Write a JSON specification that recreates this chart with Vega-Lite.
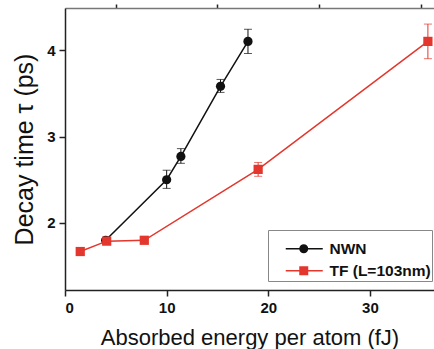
{
  "$schema": "https://vega.github.io/schema/vega-lite/v6.json",
  "autosize": "none",
  "width": 369,
  "height": 282,
  "padding": {"left": 65, "top": 8, "right": 0, "bottom": 59},
  "background": "white",
  "config": {
    "view": {"stroke": null},
    "font": "Liberation Sans",
    "axis": {
      "domainColor": "#222",
      "domainWidth": 1.5,
      "tickColor": "#222",
      "tickWidth": 1.5,
      "grid": false,
      "labelFont": "Liberation Sans",
      "labelFontWeight": "bold",
      "labelFontSize": 15,
      "labelColor": "#111",
      "titleFont": "Liberation Sans",
      "titleFontWeight": "normal",
      "titleColor": "#111"
    }
  },
  "data": {
    "values": [
      {"series": "NWN", "x": 4.0, "y": 1.80, "lo": null, "hi": null},
      {"series": "NWN", "x": 10.0, "y": 2.50, "lo": 2.40, "hi": 2.61},
      {"series": "NWN", "x": 11.4, "y": 2.77, "lo": 2.69, "hi": 2.86},
      {"series": "NWN", "x": 15.3, "y": 3.58, "lo": 3.51, "hi": 3.66},
      {"series": "NWN", "x": 18.0, "y": 4.10, "lo": 3.96, "hi": 4.24},
      {"series": "TF (L=103nm)", "x": 1.5, "y": 1.67, "lo": null, "hi": null},
      {"series": "TF (L=103nm)", "x": 4.1, "y": 1.79, "lo": null, "hi": null},
      {"series": "TF (L=103nm)", "x": 7.8, "y": 1.80, "lo": null, "hi": null},
      {"series": "TF (L=103nm)", "x": 19.0, "y": 2.62, "lo": 2.54, "hi": 2.70},
      {"series": "TF (L=103nm)", "x": 35.7, "y": 4.10, "lo": 3.90, "hi": 4.30}
    ]
  },
  "resolve": {"axis": {"x": "independent", "y": "independent"}},
  "layer": [
    {
      "mark": {"type": "line", "strokeWidth": 1.5},
      "encoding": {
        "x": {"field": "x", "type": "quantitative", "scale": {"domain": [0, 36.3], "nice": false, "zero": false},
              "axis": {"values": [0, 10, 20, 30], "tickSize": 6, "labelPadding": 4, "title": "Absorbed energy per atom (fJ)", "titleFontSize": 22, "titlePadding": 12}},
        "y": {"field": "y", "type": "quantitative", "scale": {"domain": [1.225, 4.486], "nice": false, "zero": false},
              "axis": {"values": [2, 3, 4], "tickSize": 6, "labelPadding": 4, "title": "Decay time τ (ps)", "titleFontSize": 25, "titlePadding": 9}},
        "color": {"field": "series", "type": "nominal", "scale": {"domain": ["NWN", "TF (L=103nm)"], "range": ["#111111", "#e3362c"]},
                  "legend": {
                    "orient": "none", "legendX": 203, "legendY": 222,
                    "title": " ", "titleFontSize": 8, "titlePadding": 2,
                    "strokeColor": "#888", "fillColor": "white",
                    "padding": 1, "rowPadding": 5,
                    "labelFont": "Liberation Sans", "labelFontWeight": "bold", "labelFontSize": 15.5, "labelColor": "#111",
                    "symbolSize": 100, "symbolStrokeWidth": 1.5, "labelOffset": 45, "symbolOpacity": 1,
                    "encode": {
                      "symbols": {
                        "update": {
                          "shape": {"signal": "datum.value === 'NWN' ? 'M1.8,0H9.2M6.15,0A0.75,0.75,0,1,1,4.65,0A0.75,0.75,0,1,1,6.15,0Z' : 'M1.8,0H9.2M4.65,-0.75H6.15V0.75H4.65Z'"},
                          "stroke": {"signal": "datum.value === 'NWN' ? '#111111' : '#e3362c'"},
                          "fill": {"signal": "datum.value === 'NWN' ? '#111111' : '#e3362c'"},
                          "strokeWidth": {"value": 1.5},
                          "opacity": {"value": 1}
                        }
                      }
                    }
                  }},
        "order": {"field": "x", "type": "quantitative"}
      }
    },
    {
      "transform": [{"filter": "datum.lo != null"}],
      "mark": {"type": "rule", "strokeWidth": 1},
      "encoding": {
        "x": {"field": "x", "type": "quantitative",
              "axis": {"values": [5, 15, 25, 35], "tickSize": 4, "labels": false, "domain": false, "title": null}},
        "y": {"field": "lo", "type": "quantitative",
              "axis": {"values": [1.5, 2.5, 3.5], "tickSize": 4, "labels": false, "domain": false, "title": null}},
        "y2": {"field": "hi"},
        "color": {"field": "series", "type": "nominal"}
      }
    },
    {
      "transform": [{"filter": "datum.lo != null"}],
      "mark": {"type": "tick", "orient": "horizontal", "size": 8, "thickness": 1},
      "encoding": {
        "x": {"field": "x", "type": "quantitative",
              "axis": {"orient": "top", "ticks": false, "labels": false, "title": null, "domainColor": "#777", "domainWidth": 1.5}},
        "y": {"field": "lo", "type": "quantitative", "axis": null},
        "color": {"field": "series", "type": "nominal"}
      }
    },
    {
      "transform": [{"filter": "datum.lo != null"}],
      "mark": {"type": "tick", "orient": "horizontal", "size": 8, "thickness": 1},
      "encoding": {
        "x": {"field": "x", "type": "quantitative", "axis": null},
        "y": {"field": "hi", "type": "quantitative", "axis": null},
        "color": {"field": "series", "type": "nominal"}
      }
    },
    {
      "transform": [{"filter": "datum.series === 'NWN'"}],
      "mark": {"type": "point", "shape": "circle", "filled": true, "opacity": 1, "size": 85},
      "encoding": {
        "x": {"field": "x", "type": "quantitative", "axis": null},
        "y": {"field": "y", "type": "quantitative", "axis": null},
        "color": {"field": "series", "type": "nominal"}
      }
    },
    {
      "transform": [{"filter": "datum.series !== 'NWN'"}],
      "mark": {"type": "point", "shape": "square", "filled": true, "opacity": 1, "size": 85},
      "encoding": {
        "x": {"field": "x", "type": "quantitative", "axis": null},
        "y": {"field": "y", "type": "quantitative", "axis": null},
        "color": {"field": "series", "type": "nominal"}
      }
    }
  ]
}
